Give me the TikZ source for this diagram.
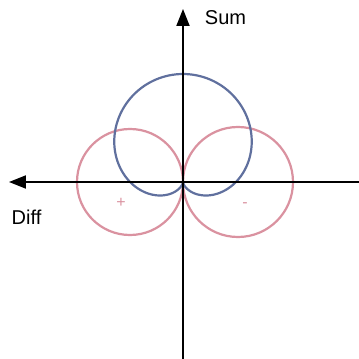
\documentclass[tikz,border=0pt]{standalone}
\usepackage{fontspec}
\setmainfont{Liberation Sans}
\usetikzlibrary{arrows.meta}
\definecolor{sumblue}{RGB}{96,112,158}
\definecolor{diffred}{RGB}{218,146,160}

\begin{document}
\begin{tikzpicture}[x=1pt,y=1pt,line cap=round,line join=round,
  axis/.style={line width=1.8pt,-{Triangle[length=17pt,width=13pt]}},
  lobe/.style={line width=2.2pt},
  every node/.style={inner sep=1pt}]
  \useasboundingbox (-183,-177) rectangle (176,182);
  \def\a{54}
  \coordinate (O) at (0,0);
  \coordinate (T) at (0,173);
  \coordinate (B) at (0,-177);
  \coordinate (L) at (-174,0);
  \coordinate (R) at (176,0);
  % red figure eight
  \draw[lobe,diffred] (-53,0) circle[radius=53];
  \draw[lobe,diffred] (55,0) circle[radius=55];
  % blue cardioid
  \draw[lobe,sumblue] plot[domain=0:360,samples=200,smooth] ({0.98*\a*(1+sin(\x))*cos(\x)},{\a*(1+sin(\x))*sin(\x)});
  \draw[axis] (B) -- (T);
  \draw[axis] (R) -- (L);
  \node[font=\fontsize{20}{24}\selectfont] (sum) at (42.5,164) {Sum};
  \node[font=\fontsize{20}{24}\selectfont] (diff) at (-156.5,-35) {Diff};
  \node[font=\fontsize{16}{18}\selectfont,text=diffred] (plus) at (-62,-21) {+};
  \node[font=\fontsize{16}{18}\selectfont,text=diffred] (minus) at (62,-23) {-};
\end{tikzpicture}
\end{document}
